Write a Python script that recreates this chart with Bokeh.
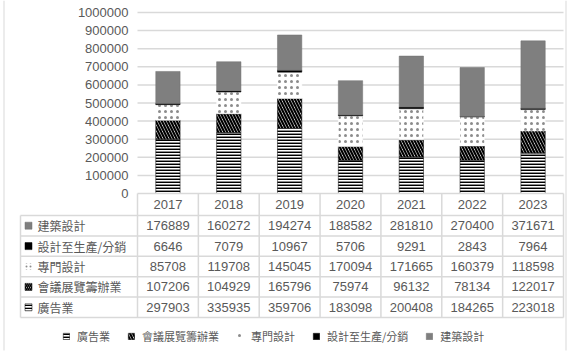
from bokeh.plotting import figure
from bokeh.models import (ColumnDataSource, FixedTicker, BasicTickFormatter, Legend,
                          LegendItem, Range1d)
from bokeh.core.properties import value
from bokeh.embed import file_html
from bokeh.resources import INLINE

# ---------------- data ----------------
years = ["2017", "2018", "2019", "2020", "2021", "2022", "2023"]
series_names = ["廣告業", "會議展覽籌辦業", "專門設計", "設計至生產/分銷", "建築設計"]
advertising = [297903, 335935, 359706, 183098, 200408, 184265, 223018]
conventions = [107206, 104929, 165796, 75974, 96132, 78134, 122017]
specialized = [85708, 119708, 145045, 170094, 171665, 160379, 118598]
production = [6646, 7079, 10967, 5706, 9291, 2843, 7964]
architecture = [176889, 160272, 194274, 188582, 281810, 270400, 371671]
y_ticks = [0, 100000, 200000, 300000, 400000, 500000, 600000, 700000, 800000, 900000, 1000000]

series_values = [advertising, conventions, specialized, production, architecture]
keys = ["s0", "s1", "s2", "s3", "s4"]

# ---------------- geometry (page pixel layout) ----------------
W, H = 570, 357
COL0, COL1 = 137, 563     # year columns span
col_w = (COL1 - COL0) / len(years)
Y0PX = 193                # pixel row of value 0
PX_PER_UNIT = 181 / 1e6


def X(px):
    return -0.5 + (px - COL0) / col_w


def Y(py):
    return (Y0PX - py) / PX_PER_UNIT


FONT = value("Liberation Sans")
CJK = value("Noto Sans CJK TC")
TXT = "#595959"
GRID = "#d9d9d9"

p = figure(width=W, height=H, output_backend="svg", toolbar_location=None,
           x_range=Range1d(X(0), X(W)), y_range=Range1d(Y(H), Y(0)),
           x_axis_location=None, min_border_left=0, min_border_right=0,
           min_border_top=0, min_border_bottom=0)
p.outline_line_color = None
p.xgrid.visible = False
p.ygrid.visible = False

ax = p.yaxis[0]
ax.ticker = FixedTicker(ticks=y_ticks)
ax.formatter = BasicTickFormatter(use_scientific=False)
ax.fixed_location = X(COL0)
ax.axis_line_color = None
ax.major_tick_line_color = None
ax.minor_tick_line_color = None
ax.major_tick_out = 0
ax.major_label_standoff = 9
ax.major_label_text_font = "Liberation Sans"
ax.major_label_text_font_size = "13px"
ax.major_label_text_color = TXT

# chart-area border (left and right edges visible)
p.segment(x0=[X(3.5), X(565.5)], x1=[X(3.5), X(565.5)], y0=[Y(0), Y(0)], y1=[Y(350), Y(350)],
          line_color=GRID, line_width=1)

# gridlines over the plot area
p.segment(x0=[X(COL0)] * (len(y_ticks) - 1), x1=[X(COL1)] * (len(y_ticks) - 1),
          y0=y_ticks[1:], y1=y_ticks[1:], line_color=GRID, line_width=1.5)

# ---------------- stacked bars ----------------
data = {"x": list(range(len(years)))}
for k, v in zip(keys, series_values):
    data[k] = v
src = ColumnDataSource(data)

fills = ["white", "white", "white", "black", "#7f7f7f"]
lines = ["black", "black", "white", "black", "#707070"]
hatches = ["horizontal_line", "left_diagonal_line", "dot", None, None]
hcolors = ["black", "black", "#8c8c8c", "black", "black"]
hscales = [3.0, 6.0, 6.0, 1.0, 1.0]
hweights = [1.9, 2.2, 0.8, 1.0, 1.0]

bars = p.vbar_stack(keys, x="x", width=0.4, source=src,
                    fill_color=fills, line_color=lines, line_width=0.5,
                    hatch_pattern=hatches, hatch_color=hcolors,
                    hatch_scale=hscales, hatch_weight=hweights)

# ---------------- data table ----------------
TBL_L = 20
header_top, header_bot, tbl_bot = 193, 215, 317
row_h = (tbl_bot - header_bot) / 5
row_lines = [header_bot + i * row_h for i in range(6)]

# horizontal lines
hx0 = [X(COL0)] + [X(TBL_L)] * 6
hx1 = [X(COL1)] * 7
hy = [Y(header_top)] + [Y(r) for r in row_lines]
p.segment(x0=hx0, x1=hx1, y0=hy, y1=hy, line_color=GRID, line_width=1.5)
# vertical lines
vx = [X(TBL_L)] + [X(COL0 + k * col_w) for k in range(len(years) + 1)]
vy0 = [Y(header_bot)] + [Y(header_top)] * (len(years) + 1)
vy1 = [Y(tbl_bot)] * (len(years) + 2)
p.segment(x0=vx, x1=vx, y0=vy0, y1=vy1, line_color=GRID, line_width=1.5)

# header years
p.text(x=list(range(len(years))), y=[Y((header_top + header_bot) / 2)] * len(years),
       text=years, text_font=FONT, text_font_size="13px", text_color=TXT,
       text_align="center", text_baseline="middle")

# rows: top to bottom = 建築設計, 設計至生產/分銷, 專門設計, 會議展覽籌辦業, 廣告業
order = [4, 3, 2, 1, 0]
sw_scale = [3.0, 4.0, 4.0, 1.0, 1.0]
sw_weight = [1.6, 1.6, 0.9, 1.0, 1.0]
tx, ty, tt = [], [], []
lx, ly, lt = [], [], []
for ri, si in enumerate(order):
    cy = Y(row_lines[ri] + row_h / 2)
    for k, v in enumerate(series_values[si]):
        tx.append(k)
        ty.append(cy)
        tt.append(str(v))
    lx.append(X(37))
    ly.append(cy)
    lt.append(series_names[si])
    p.rect(x=[X(28)], y=[cy], width=7, height=7, width_units="screen",
           height_units="screen", fill_color=fills[si],
           line_color=None if si == 2 else lines[si], line_width=0.5,
           hatch_pattern=hatches[si], hatch_color=hcolors[si],
           hatch_scale=sw_scale[si], hatch_weight=sw_weight[si])

p.text(x=tx, y=ty, text=tt, text_font=FONT, text_font_size="13px", text_color=TXT,
       text_align="center", text_baseline="middle")
p.text(x=lx, y=ly, text=lt, text_font=CJK, text_font_size="12px", text_color=TXT,
       text_align="left", text_baseline="middle")

# ---------------- legend ----------------
legend = Legend(items=[LegendItem(label=n, renderers=[r]) for n, r in zip(series_names, bars)],
                location=(62, 13), orientation="horizontal",
                glyph_width=8, glyph_height=8, label_standoff=7, spacing=17,
                padding=0, margin=0, border_line_color=None, background_fill_alpha=0,
                label_text_font="Noto Sans CJK TC", label_text_font_size="11px",
                label_text_color=TXT, label_height=12)
p.add_layout(legend)

open("out.html", "w").write(file_html(p, INLINE))
